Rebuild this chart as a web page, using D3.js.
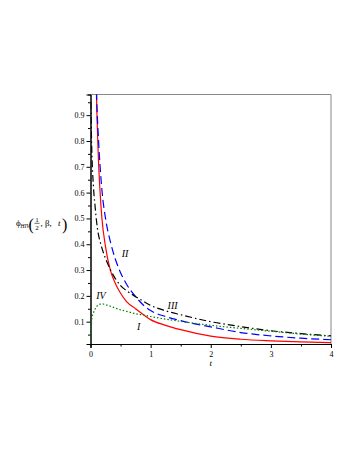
<!DOCTYPE html>
<html>
<head>
<meta charset="utf-8">
<script src="https://cdn.jsdelivr.net/npm/d3@7"></script>
<style>
  body { margin: 0; background: #fff; }
  svg text { font-family: "Liberation Serif", "DejaVu Serif", serif; }
</style>
</head>
<body>
<svg id="chart" width="357" height="462"></svg>
<script>
// sample times shared by all four curves
const tValues = [0.005, 0.02, 0.05, 0.075, 0.1, 0.13, 0.16, 0.19, 0.25, 0.33, 0.41, 0.5,
                 0.6, 0.75, 0.9, 1.0, 1.25, 1.5, 2.0, 2.5, 3.0, 3.5, 4.0];

const curveI   = [19, 4.9, 1.95, 1.3, 0.97, 0.74, 0.6, 0.5, 0.39, 0.3, 0.25, 0.21,
                  0.178, 0.15, 0.124, 0.108, 0.086, 0.069, 0.044, 0.032, 0.026, 0.022, 0.019];
const curveII  = [20, 5, 2, 1.4, 1.0, 0.82, 0.7, 0.61, 0.5, 0.41, 0.345, 0.29,
                  0.245, 0.197, 0.16, 0.143, 0.12, 0.104, 0.08, 0.058, 0.045, 0.036, 0.03];
const curveIII = [0.95, 0.78, 0.62, 0.55, 0.49, 0.44, 0.41, 0.385, 0.345, 0.302, 0.268, 0.24,
                  0.22, 0.197, 0.176, 0.163, 0.142, 0.127, 0.1, 0.081, 0.065, 0.054, 0.045];
const curveIV  = [0.04, 0.107, 0.135, 0.148, 0.158, 0.165, 0.168, 0.169, 0.166, 0.16, 0.153, 0.146,
                  0.14, 0.131, 0.125, 0.12, 0.11, 0.101, 0.086, 0.074, 0.063, 0.052, 0.043];

const xTicks = [0, 1, 2, 3, 4];
const yTicks = [0.1, 0.2, 0.3, 0.4, 0.5, 0.6, 0.7, 0.8, 0.9];

const seriesNames = ["I", "II", "III", "IV"];
const seriesColors = ["#ff0000", "#0000ff", "#000000", "#008000"];
const seriesDash = [null, "8,4", "7,3,1.5,3", "1.5,2"];
const labelSpots = [[0.8, 0.068], [0.575, 0.349], [1.365, 0.151], [0.175, 0.186]]; // [t, phi] for roman labels

const svg = d3.select("#chart");
const x = d3.scaleLinear().domain([0, 4]).range([90.5, 331]);
const y = d3.scaleLinear().domain([0.0136, 0.98]).range([344, 94.5]);

// clip for curves
svg.append("defs").append("clipPath").attr("id", "plotClip")
   .append("rect")
   .attr("x", x(0)).attr("y", y(0.98))
   .attr("width", x(4) - x(0)).attr("height", y(0.0136) - y(0.98));

// frame (top & right in gray)
svg.append("path")
   .attr("d", `M${x(0)},${y(0.98)}H${x(4)}V${y(0.0136)}`)
   .attr("fill", "none").attr("stroke", "#888").attr("stroke-width", 1);

// axes
let xAxis = d3.axisBottom(x).tickValues(xTicks).tickFormat(d3.format("d")).tickSize(4).tickPadding(3);
let xMinor = d3.axisBottom(x).tickValues([0.5, 1.5, 2.5, 3.5]).tickFormat("").tickSize(2.5);
let yAxis = d3.axisLeft(y).tickValues(yTicks).tickFormat(d3.format(".1f")).tickSize(4).tickPadding(2);
let yMinor = d3.axisLeft(y).tickValues(yTicks.map(v => v - 0.05).filter(v => v > 0.02).concat([0.95]))
               .tickFormat("").tickSize(2.5);

[xAxis, xMinor].forEach(ax => {
  svg.append("g").attr("transform", `translate(0,${y(0.0136)})`).call(ax);
});
[yAxis, yMinor].forEach(ax => {
  svg.append("g").attr("transform", `translate(${x(0)},0)`).call(ax);
});
svg.selectAll(".domain").attr("stroke", "#000");
svg.selectAll(".tick line").attr("stroke", "#000");
svg.selectAll(".tick text").attr("font-size", 8).attr("fill", "#000")
   .style("font-family", "'Liberation Serif', serif");

// curves
let line = d3.line()
             .x((d) => x(d[0]))
             .y((d) => y(d[1]))
             .curve(d3.curveMonotoneX);

let curveGroup = svg.append("g").attr("clip-path", "url(#plotClip)");
[curveI, curveII, curveIII, curveIV].forEach((vals, i) => {
  let pts = tValues.map((t, k) => [t, vals[k]]);
  if (i === 3) pts.unshift([0, 0]);
  curveGroup.append("path")
            .attr("d", line(pts))
            .attr("fill", "none")
            .attr("stroke", seriesColors[i])
            .attr("stroke-width", 1.2)
            .attr("stroke-dasharray", seriesDash[i]);
});

// roman labels
seriesNames.forEach((name, i) => {
  svg.append("text")
     .attr("x", x(labelSpots[i][0]))
     .attr("y", y(labelSpots[i][1]))
     .attr("font-size", 10)
     .attr("font-style", "italic")
     .attr("text-anchor", "middle")
     .text(name);
});

// x label
svg.append("text")
   .attr("x", (x(0) + x(4)) / 2)
   .attr("y", 366)
   .attr("font-size", 9)
   .attr("font-style", "italic")
   .attr("text-anchor", "middle")
   .text("t");

// y label: phi_HIV(1/2, beta, t)
let yl = svg.append("g").attr("transform", "translate(16,226)");
yl.append("text").attr("x", 0).attr("y", 0).attr("font-size", 9).text("ϕ");
yl.append("text").attr("x", 4.5).attr("y", 2).attr("font-size", 5.5).attr("font-style", "italic").text("HIV");
yl.append("text").attr("x", 12.5).attr("y", 4).attr("font-size", 16).text("(");
yl.append("text").attr("x", 21).attr("y", -4).attr("font-size", 7).attr("text-anchor", "middle").text("1");
yl.append("line").attr("x1", 18.5).attr("x2", 23.5).attr("y1", -2.7).attr("y2", -2.7)
  .attr("stroke", "#000").attr("stroke-width", 0.6);
yl.append("text").attr("x", 21).attr("y", 4).attr("font-size", 7).attr("text-anchor", "middle").text("2");
yl.append("text").attr("x", 24.5).attr("y", 0).attr("font-size", 9).text(", β, ");
yl.append("text").attr("x", 42).attr("y", 0).attr("font-size", 9).attr("font-style", "italic").text("t");
yl.append("text").attr("x", 46).attr("y", 4).attr("font-size", 16).text(")");
</script>
</body>
</html>
